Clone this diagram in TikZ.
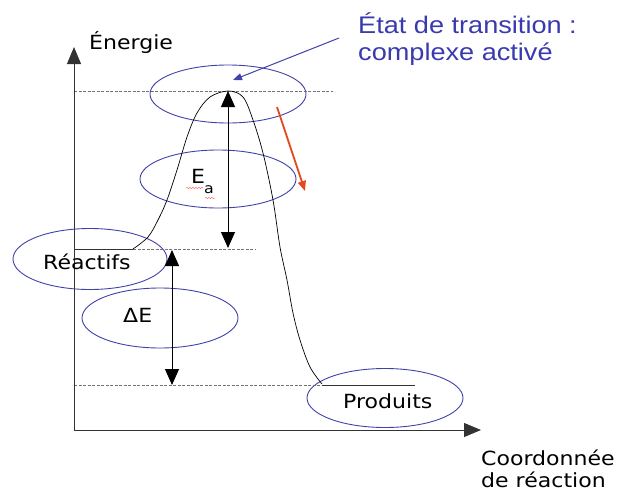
\documentclass[tikz,border=0pt]{standalone}
\usepackage{fontspec}
\usetikzlibrary{arrows.meta,shapes.geometric,decorations.pathmorphing}
\newfontfamily\labfont[FakeStretch=1.13]{DejaVu Sans}
\newfontfamily\ttlfont[FakeStretch=1.13]{Liberation Sans}
\definecolor{ringblue}{RGB}{65,65,170}
\definecolor{ttlblue}{RGB}{58,58,175}
\definecolor{redarr}{RGB}{228,72,32}
\begin{document}
\begin{tikzpicture}[x=1pt,y=-1pt,
  ring/.style={ellipse, draw=ringblue, line width=0.9pt, inner sep=0pt},
  lab/.style={anchor=base west, inner sep=0pt, font=\labfont\fontsize{19.5}{22}\selectfont},
  ttl/.style={anchor=base west, inner sep=0pt, text=ttlblue, font=\ttlfont\fontsize{24}{27}\selectfont},
  guide/.style={draw=gray!90!black, line width=0.6pt, dash pattern=on 3pt off 1.5pt},
  axisline/.style={line width=1pt, draw=black!80, -{Triangle[length=17pt,width=14pt]}},
  dblarrow/.style={line width=1pt, {Triangle[length=16pt,width=14pt]}-{Triangle[length=16pt,width=14pt]}},
  levelline/.style={draw=black!80, line width=0.8pt},
  curveline/.style={draw=black, line width=0.7pt}
]
\useasboundingbox (0,0) rectangle (619,491);

% ellipses
\node[ring, minimum width=156pt, minimum height=58pt] (eTS) at (228,94) {};
\node[ring, minimum width=156pt, minimum height=58pt] (eEa) at (218,179) {};
\node[ring, minimum width=154pt, minimum height=61pt] (eR)  at (90,259) {};
\node[ring, minimum width=156pt, minimum height=60pt] (eDE) at (160,318) {};
\node[ring, minimum width=156pt, minimum height=59pt] (eP)  at (385,398) {};

% key points
\coordinate (O) at (74,430);
\coordinate (ytip) at (74,47);
\coordinate (xtip) at (481,430);
\coordinate (peak) at (228,91);
\coordinate (reac) at (133,249);
\coordinate (prod) at (322,385);
\coordinate (reacEnd) at (255,249);
\coordinate (reacL) at (74,249);
\coordinate (prodL) at (74,385);
\coordinate (prodEnd) at (415,385);
\coordinate (peakL) at (74,91);
\coordinate (peakR) at (333,91);
\coordinate (eaBot) at (228,248);
\coordinate (deTop) at (172,250);
\coordinate (deBot) at (172,385);

% guide lines
\draw[guide] (peakL) -- (peakR);
\draw[guide] (reac) -- (reacEnd);
\draw[guide] (prodL) -- (prod);
\draw[levelline] (reacL) -- (reac);
\draw[levelline] (prod) -- (prodEnd);

% axes
\draw[axisline] (O) -- (ytip);
\draw[axisline] (O) -- (xtip);

% energy curve
\draw[curveline] plot[smooth, tension=0.55] coordinates {
  (133,249) (148,237) (158,220) (167,200) (177,170) (187,137) (197,113)
  (210,97) (228,91) (243,97) (253,120) (263,153) (273,200) (280,247)
  (287,280) (293,313) (300,340) (310,367) (322,384)};

% double arrows
\draw[dblarrow] (peak) -- (eaBot);
\draw[dblarrow] (deTop) -- (deBot);

% texts
\node[lab] (energie) at (89,49) {Énergie};
\node[lab] (reactifs) at (43,269) {Réactifs};
\node[lab] (dE) at (123,322) {ΔE};
\node[lab] (produits) at (343,408) {Produits};
\node[lab] (coord1) at (481,465) {Coordonnée};
\node[lab] (coord2) at (481,487) {de réaction};
\node[lab] (ea) at (191,183) {E\kern-1pt\raisebox{-0.55em}{\fontsize{14}{14}\selectfont a}};

\node[ttl] (ts1) at (358,33) {État de transition :};
\node[ttl] (ts2) at (358,60) {complexe activé};

% spell-check squiggles under E_a
\draw[red!65, line width=0.4pt, decorate, decoration={snake, amplitude=0.7pt, segment length=3pt}] (186,188) -- (203,188);
\draw[red!65, line width=0.4pt, decorate, decoration={snake, amplitude=0.7pt, segment length=3pt}] (205,198) -- (215,198);

% annotation arrows
\coordinate (bStart) at (339,38);
\coordinate (bEnd) at (233,80);
\draw[draw=ringblue, line width=1pt, -{Triangle[length=9pt,width=7pt]}] (bStart) -- (bEnd);
\coordinate (rStart) at (277,107);
\coordinate (rEnd) at (305,191);
\draw[draw=redarr, line width=1.8pt, -{Triangle[length=10pt,width=8pt]}] (rStart) -- (rEnd);
\end{tikzpicture}
\end{document}
